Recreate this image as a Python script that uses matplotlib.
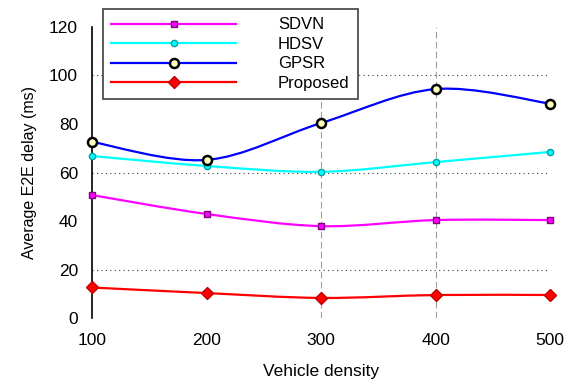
import numpy as np
import matplotlib
matplotlib.use('Agg')
import matplotlib.pyplot as plt
from matplotlib.path import Path
from matplotlib.patches import PathPatch
from matplotlib.lines import Line2D

plt.rcParams['font.family'] = ['Liberation Sans', 'DejaVu Sans']

# ============================================================
# DATA
# ============================================================
density = [100, 200, 300, 400, 500]
sdvn = [50.7, 42.9, 37.9, 40.4, 40.4]
hdsv = [66.8, 62.7, 60.3, 64.3, 68.5]
gpsr = [72.6, 65.2, 80.4, 94.4, 88.4]
proposed = [12.6, 10.3, 8.3, 9.5, 9.5]

series = [
    ('SDVN', sdvn, dict(color='#ff00ff', marker='s', ms=5, mfc='#ff00ff', mec='#800080', mew=1)),
    ('HDSV', hdsv, dict(color='#00ffff', marker='o', ms=4.5, mfc='#00ffff', mec='#00a0a0', mew=1)),
    ('GPSR', gpsr, dict(color='#0000ff', marker='o', ms=6.5, mfc='#ffffc0', mec='black', mew=1.8)),
    ('Proposed', proposed, dict(color='#ff0000', marker='D', ms=6, mfc='#ff0000', mec='#c00000', mew=1)),
]


def smooth_path(x, y):
    # Catmull-Rom style bezier through the data points
    pts = np.column_stack([x, y]).astype(float)
    verts = [pts[0]]
    codes = [Path.MOVETO]
    n = len(pts)
    for i in range(n - 1):
        p0 = pts[i - 1] if i > 0 else pts[i]
        p1 = pts[i]
        p2 = pts[i + 1]
        p3 = pts[i + 2] if i + 2 < n else pts[i + 1]
        c1 = p1 + (p2 - p0) / 6.0
        c2 = p2 - (p3 - p1) / 6.0
        verts += [c1, c2, p2]
        codes += [Path.CURVE4] * 3
    return Path(verts, codes)


fig = plt.figure(figsize=(5.75, 3.8), dpi=100)
ax = fig.add_axes([0.16, 0.163, 0.797, 0.766])

# partial grid like the original
for yv in [20, 60, 100]:
    ax.axhline(yv, color='#404040', ls=(0, (1, 3)), lw=0.8, zorder=0)
for xv in [300, 400]:
    ax.axvline(xv, color='#a0a0a0', ls=(0, (6, 3)), lw=0.8, zorder=0)

handles = []
for name, vals, st in series:
    patch = PathPatch(smooth_path(density, vals), fill=False, edgecolor=st['color'], lw=1.6, zorder=2)
    ax.add_patch(patch)
    ax.plot(density, vals, ls='none', marker=st['marker'], ms=st['ms'], mfc=st['mfc'],
            mec=st['mec'], mew=st['mew'], zorder=3, clip_on=False)
    handles.append(Line2D([], [], color=st['color'], lw=1.6, marker=st['marker'], ms=st['ms'],
                          mfc=st['mfc'], mec=st['mec'], mew=st['mew'], label=name))

ax.set_xlim(100, 500)
ax.set_ylim(0, 120)
ax.set_xticks(density)
ax.set_yticks([0, 20, 40, 60, 80, 100, 120])
ax.set_yticks([20, 60, 100], minor=True)
ax.spines['top'].set_visible(False)
ax.spines['right'].set_visible(False)
ax.spines['bottom'].set_visible(False)
ax.spines['left'].set_linewidth(1.2)
ax.tick_params(axis='x', length=0, labelsize=12.5, pad=11)
ax.tick_params(axis='y', which='major', length=0, labelsize=12.5, pad=10)
ax.tick_params(axis='y', which='minor', direction='in', length=3, width=1)
ax.set_xlabel('Vehicle density', fontsize=12.5, labelpad=11)
ax.set_ylabel('Average E2E delay (ms)', fontsize=11.5, labelpad=9)

leg = fig.legend(handles=handles, loc='upper left', bbox_to_anchor=(0.179, 0.976),
                 fontsize=12, handlelength=7.5, numpoints=1, fancybox=False,
                 framealpha=1, edgecolor='#404040', borderpad=0.5, labelspacing=0.27,
                 handletextpad=2.5, borderaxespad=0)
leg.get_frame().set_linewidth(1.2)

fig.savefig('out.png', dpi=100)
